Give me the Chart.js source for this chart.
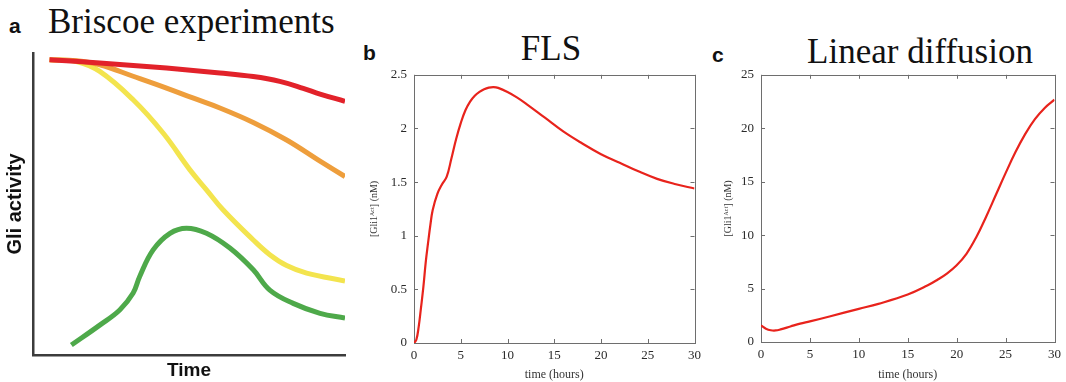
<!DOCTYPE html>
<html>
<head>
<meta charset="utf-8">
<script src="https://cdn.jsdelivr.net/npm/chart.js@4.4.1/dist/chart.umd.min.js"></script>
<style>
  html, body { margin: 0; padding: 0; background: #fff; }
  body { width: 1066px; height: 382px; position: relative; overflow: hidden; }
  .panel { position: absolute; }
  .letter { position: absolute; font: bold 21px "Liberation Sans", Arial, sans-serif; line-height: 1; color: #111; }
  .title { position: absolute; font: 35px "Liberation Serif", "Times New Roman", serif; line-height: 1; color: #111; white-space: nowrap; }
</style>
</head>
<body>
<div class="letter" style="left:9px; top:15px;">a</div>
<div class="title" style="left:48px; top:4px;">Briscoe experiments</div>
<div class="letter" style="left:363px; top:42px;">b</div>
<div class="title" style="left:551px; top:31px; transform:translateX(-50%);">FLS</div>
<div class="letter" style="left:712px; top:44px;">c</div>
<div class="title" style="left:920px; top:34px; transform:translateX(-50%);">Linear diffusion</div>

<div class="panel" style="left:0; top:45px; width:355px; height:337px;"><canvas id="chartA"></canvas></div>
<div class="panel" style="left:360px; top:60px; width:346px; height:322px;"><canvas id="chartB"></canvas></div>
<div class="panel" style="left:715px; top:60px; width:351px; height:322px;"><canvas id="chartC"></canvas></div>

<script>
// Panel a: sketched Gli activity curves (arbitrary units, 0-100)
const redX = [5.3, 21.4, 42.8, 59.9, 70.6, 79.1, 86.6, 92.0, 100];
const redY = [97.8, 96.7, 95.0, 93.4, 92.2, 90.6, 88.3, 86.4, 84.0];
const orangeX = [5.3, 14, 21.4, 32.1, 42.8, 51, 59.9, 70.6, 81.3, 92.0, 100];
const orangeY = [97.8, 97.4, 96.1, 92.3, 88.4, 85.2, 81.8, 77.0, 71.2, 64.2, 59.1];
const yellowX = [5.3, 13.9, 21.4, 32.1, 41.7, 50.3, 55.6, 60.9, 70.6, 75.9, 81.3, 87.7, 100];
const yellowY = [97.8, 97.2, 93.9, 84.5, 73.5, 61.3, 54.7, 48.1, 38.1, 33.2, 29.6, 27.1, 24.5];
const greenX = [12.3, 21.4, 27.8, 32.1, 34.2, 38.5, 43.9, 49.2, 55.6, 63.1, 70.6, 75.9, 83.4, 92.0, 100];
const greenY = [3.3, 9.9, 14.9, 20.5, 26.0, 34.8, 40.3, 42.0, 40.3, 35.4, 28.2, 21.5, 17.1, 13.8, 12.2];

// Panel b: FLS model
const flsTime = [0, 0.25, 0.5, 0.75, 1, 1.25, 1.5, 1.75, 2, 2.5, 3, 3.5, 4, 4.5, 5, 5.5, 6, 6.5, 7, 7.5, 8, 8.5, 9, 10, 11, 12, 14, 16, 18, 20, 22, 24, 26, 28, 30];
const flsGli = [0, 0.03, 0.15, 0.33, 0.52, 0.75, 0.93, 1.1, 1.24, 1.39, 1.48, 1.55, 1.72, 1.9, 2.05, 2.17, 2.25, 2.305, 2.34, 2.365, 2.38, 2.385, 2.378, 2.34, 2.29, 2.23, 2.1, 1.97, 1.86, 1.76, 1.68, 1.6, 1.53, 1.48, 1.44];

// Panel c: linear diffusion model
const diffTime = [0, 0.5, 1, 1.5, 2, 3, 4, 5, 7, 10, 12, 15, 17, 18, 19, 20, 21, 22, 23, 24, 25, 26, 27, 28, 29, 30];
const diffGli = [1.55, 1.25, 1.1, 1.08, 1.18, 1.45, 1.72, 1.93, 2.39, 3.1, 3.57, 4.44, 5.28, 5.8, 6.4, 7.18, 8.25, 9.8, 11.7, 13.75, 15.8, 17.75, 19.45, 20.85, 21.9, 22.67];

// tick labels
const timeTicks = [0, 5, 10, 15, 20, 25, 30];
const flsTicks = [0, 0.5, 1, 1.5, 2, 2.5];
const diffTicks = [0, 5, 10, 15, 20, 25];

const pts = (xs, ys) => xs.map((x, i) => ({x: x, y: ys[i]}));

// closed box with small inward tick marks, like the matlab plots
const boxPlugin = {
  id: 'box',
  beforeDatasetsDraw(chart, args, opts) {
    if (!opts.on) return;
    const {ctx, chartArea: a, scales: {x, y}} = chart;
    ctx.save();
    ctx.strokeStyle = '#6e6e6e';
    ctx.lineWidth = 1;
    ctx.strokeRect(Math.round(a.left) + 0.5, Math.round(a.top) + 0.5,
      Math.round(a.right - a.left), Math.round(a.bottom - a.top));
    ctx.beginPath();
    x.ticks.forEach((t, i) => {
      const px = Math.round(x.getPixelForTick(i)) + 0.5;
      ctx.moveTo(px, a.top); ctx.lineTo(px, a.top + 4);
      ctx.moveTo(px, a.bottom); ctx.lineTo(px, a.bottom - 4);
    });
    y.ticks.forEach((t, i) => {
      const py = Math.round(y.getPixelForTick(i)) + 0.5;
      ctx.moveTo(a.left, py); ctx.lineTo(a.left + 4, py);
      ctx.moveTo(a.right, py); ctx.lineTo(a.right - 4, py);
    });
    ctx.stroke();
    ctx.restore();
  }
};
Chart.register(boxPlugin);

const serif = '"Liberation Serif", "Times New Roman", serif';

function sketchLine(data, color) {
  return { data: data, borderColor: color, borderWidth: 5, pointRadius: 0,
    tension: 0.4, borderCapStyle: 'butt', fill: false };
}

new Chart(document.getElementById('chartA'), {
  type: 'line',
  data: {
    datasets: [
      sketchLine(pts(redX, redY), '#e2222a'),
      sketchLine(pts(orangeX, orangeY), '#ee9e3c'),
      sketchLine(pts(yellowX, yellowY), '#f3e44e'),
      sketchLine(pts(greenX, greenY), '#4ea94a')
    ]
  },
  options: {
    responsive: true, maintainAspectRatio: false, animation: false,
    layout: { padding: { top: 8, right: 10, left: 0, bottom: 0 } },
    plugins: { legend: { display: false }, tooltip: { enabled: false } },
    scales: {
      x: {
        type: 'linear', min: 0, max: 100,
        ticks: { display: false },
        grid: { drawOnChartArea: false, drawTicks: false },
        border: { display: true, color: '#3c3c3c', width: 2.5 },
        title: { display: true, text: 'Time', color: '#111', padding: 0,
          font: { family: '"Liberation Sans", Arial, sans-serif', size: 19, weight: 'bold' } },
        afterFit: s => { s.height = 27; }
      },
      y: {
        min: 0, max: 100,
        ticks: { display: false },
        grid: { drawOnChartArea: false, drawTicks: false },
        border: { display: true, color: '#3c3c3c', width: 2.5 },
        title: { display: true, text: 'Gli activity', color: '#111', padding: { top: 3, bottom: 0 },
          font: { family: '"Liberation Sans", Arial, sans-serif', size: 20, weight: 'bold' } },
        afterFit: s => { s.width = 33; }
      }
    }
  }
});

function modelChart(id, xs, ys, yTicks, yMax, opt) {
  return new Chart(document.getElementById(id), {
    type: 'line',
    data: {
      datasets: [{ data: pts(xs, ys), borderColor: '#e8231c', borderWidth: 2.2, pointRadius: 0,
        tension: 0.4, fill: false }]
    },
    options: {
      responsive: true, maintainAspectRatio: false, animation: false,
      layout: { padding: opt.padding },
      plugins: { legend: { display: false }, tooltip: { enabled: false }, box: { on: true } },
      scales: {
        x: {
          type: 'linear', min: 0, max: 30,
          afterBuildTicks: s => { s.ticks = timeTicks.map(v => ({value: v})); },
          ticks: { color: '#2a2a2a', padding: 5, maxRotation: 0, callback: v => String(v),
            font: { family: serif, size: 13 } },
          grid: { drawOnChartArea: false, drawTicks: false },
          border: { display: false },
          title: { display: true, text: 'time (hours)', color: '#333', padding: 0,
            font: { family: serif, size: 12 } },
          afterFit: s => { s.height = opt.xHeight; }
        },
        y: {
          min: 0, max: yMax,
          afterBuildTicks: s => { s.ticks = yTicks.map(v => ({value: v})); },
          ticks: { color: '#2a2a2a', padding: 7, callback: v => String(v),
            font: { family: serif, size: 13 } },
          grid: { drawOnChartArea: false, drawTicks: false },
          border: { display: false },
          title: { display: true, text: '[Gli1ᴬᶜᵗ] (nM)', color: '#333', padding: { top: opt.titlePad, bottom: 0 },
            font: { family: serif, size: 10 } },
          afterFit: s => { s.width = opt.yWidth; }
        }
      }
    }
  });
}

modelChart('chartB', flsTime, flsGli, flsTicks, 2.5,
  { padding: { top: 12, right: 8, left: 0, bottom: 0 }, xHeight: 39, yWidth: 54, titlePad: 8 });
modelChart('chartC', diffTime, diffGli, diffTicks, 25,
  { padding: { top: 13, right: 9, left: 0, bottom: 0 }, xHeight: 40, yWidth: 46, titlePad: 7 });
</script>
</body>
</html>
